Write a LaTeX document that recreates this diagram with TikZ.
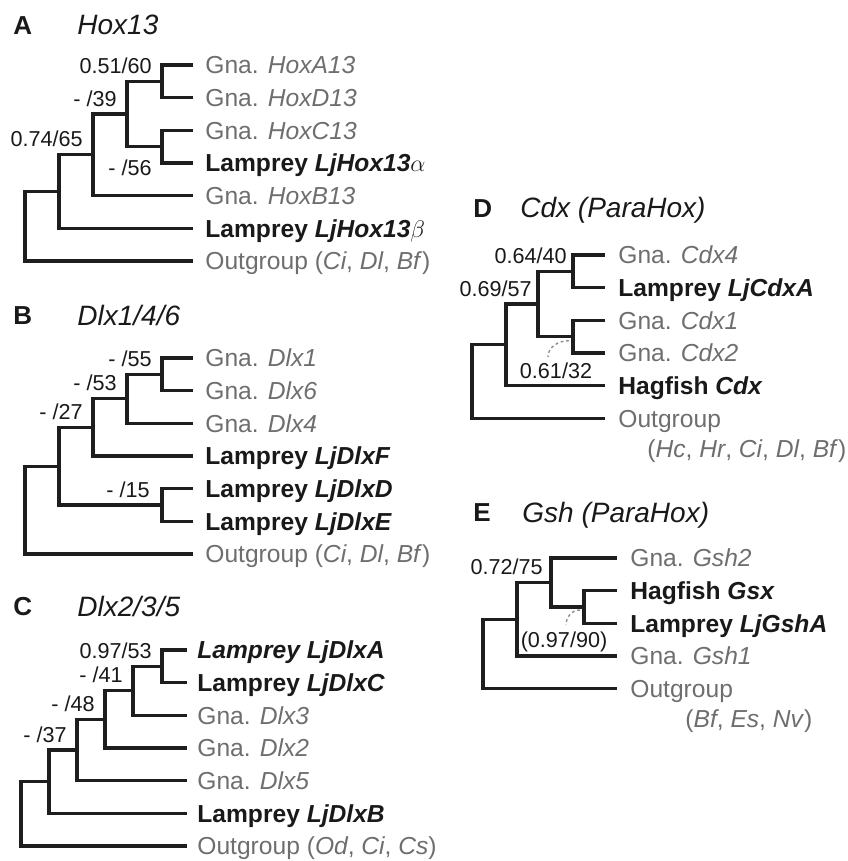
\documentclass[tikz,border=0pt]{standalone}
\usepackage{fontspec}
\setmainfont{Liberation Sans}
\usetikzlibrary{positioning}

\definecolor{treeline}{RGB}{30,30,30}
\definecolor{tipgray}{RGB}{110,110,110}
\definecolor{tipblack}{RGB}{25,25,25}
\definecolor{arcgray}{RGB}{140,140,140}

\tikzset{
  branch/.style={draw=treeline, line width=1.6pt},
  gna/.style={font=\fontsize{12.3}{14}\selectfont, text=tipgray, inner sep=0pt, text height=8.8pt, text depth=0pt},
  lam/.style={gna, text=tipblack, font=\fontsize{12.3}{14}\selectfont\bfseries},
  bs/.style={font=\fontsize{10.8}{12}\selectfont, text=tipblack, inner sep=0pt, text height=7.8pt, text depth=0pt},
  panel/.style={font=\fontsize{13}{15}\selectfont\bfseries, text=tipblack, inner sep=0pt, anchor=west, text height=9.3pt, text depth=0pt},
  gene/.style={font=\fontsize{14}{16}\selectfont\itshape, text=tipblack, inner sep=0pt, anchor=west, text height=10pt, text depth=0pt},
  dotarc/.style={draw=arcgray, line width=0.7pt, dash pattern=on 1.4pt off 1.4pt}
}

\begin{document}
\begin{tikzpicture}[x=0.5pt, y=-0.5pt]
\useasboundingbox (0,0) rectangle (847,861);

% A  Hox13
\node[panel] (pA) at (13,25) {A};
\node[gene] (gA) at (77,25) {Hox13};
\coordinate (a1) at (193,65);
\coordinate (a2) at (193,97.7);
\coordinate (a3) at (193,130.3);
\coordinate (a4) at (193,163);
\coordinate (a5) at (193,195.7);
\coordinate (a6) at (193,228.3);
\coordinate (a7) at (193,261);
\coordinate (a12) at (162,81.3);
\coordinate (a34) at (162,146.7);
\coordinate (a14) at (127,114);
\coordinate (a15) at (93,154.8);
\coordinate (a16) at (59,191.6);
\coordinate (a17) at (25,226.3);
\draw[branch] (a12) |- (a1) (a12) |- (a2) (a34) |- (a3) (a34) |- (a4);
\draw[branch] (a14) |- (a12) (a14) |- (a34) (a15) |- (a14) (a15) |- (a5);
\draw[branch] (a16) |- (a15) (a16) |- (a6) (a17) |- (a16) (a17) |- (a7);
\node[gna, right=6pt of a1] (ta1) {Gna. \textit{HoxA13}};
\node[gna, right=6pt of a2] (ta2) {Gna. \textit{HoxD13}};
\node[gna, right=6pt of a3] (ta3) {Gna. \textit{HoxC13}};
\node[lam, right=6pt of a4] (ta4) {Lamprey \textit{LjHox13}$\alpha$};
\node[gna, right=6pt of a5] (ta5) {Gna. \textit{HoxB13}};
\node[lam, right=6pt of a6] (ta6) {Lamprey \textit{LjHox13}$\beta$};
\node[gna, right=6pt of a7] (ta7) {Outgroup (\textit{Ci}, \textit{Dl}, \textit{Bf})};
\node[bs, above left=3.75pt and 5pt of a12] (la1) {0.51/60};
\node[bs, above left=3.75pt and 5pt of a14] (la2) {- /39};
\node[bs, above left=3.75pt and 5pt of a15] (la3) {0.74/65};
\node[bs, below left=6.5pt and 5pt of a34] (la4) {- /56};

% B  Dlx1/4/6
\node[panel] (pB) at (13,315) {B};
\node[gene] (gB) at (77,315) {Dlx1/4/6};
\coordinate (b1) at (193,358);
\coordinate (b2) at (193,390.7);
\coordinate (b3) at (193,423.3);
\coordinate (b4) at (193,456);
\coordinate (b5) at (193,488.7);
\coordinate (b6) at (193,521.3);
\coordinate (b7) at (193,554);
\coordinate (b12) at (162,374.3);
\coordinate (b13) at (127,398.8);
\coordinate (b14) at (93,427.4);
\coordinate (b56) at (162,505);
\coordinate (b16) at (59,466.2);
\coordinate (b17) at (25,510.1);
\draw[branch] (b12) |- (b1) (b12) |- (b2) (b13) |- (b12) (b13) |- (b3);
\draw[branch] (b14) |- (b13) (b14) |- (b4) (b56) |- (b5) (b56) |- (b6);
\draw[branch] (b16) |- (b14) (b16) |- (b56) (b17) |- (b16) (b17) |- (b7);
\node[gna, right=6pt of b1] (tb1) {Gna. \textit{Dlx1}};
\node[gna, right=6pt of b2] (tb2) {Gna. \textit{Dlx6}};
\node[gna, right=6pt of b3] (tb3) {Gna. \textit{Dlx4}};
\node[lam, right=6pt of b4] (tb4) {Lamprey \textit{LjDlxF}};
\node[lam, right=6pt of b5] (tb5) {Lamprey \textit{LjDlxD}};
\node[lam, right=6pt of b6] (tb6) {Lamprey \textit{LjDlxE}};
\node[gna, right=6pt of b7] (tb7) {Outgroup (\textit{Ci}, \textit{Dl}, \textit{Bf})};
\node[bs, above left=3.75pt and 5pt of b12] (lb1) {- /55};
\node[bs, above left=3.75pt and 5pt of b13] (lb2) {- /53};
\node[bs, above left=3.75pt and 5pt of b14] (lb3) {- /27};
\node[bs, above left=3.75pt and 6pt of b56] (lb4) {- /15};

% C  Dlx2/3/5
\node[panel] (pC) at (13,606) {C};
\node[gene] (gC) at (77,606) {Dlx2/3/5};
\coordinate (c1) at (187,650);
\coordinate (c2) at (187,682.7);
\coordinate (c3) at (187,715.3);
\coordinate (c4) at (187,748);
\coordinate (c5) at (187,780.7);
\coordinate (c6) at (187,813.3);
\coordinate (c7) at (187,846);
\coordinate (c12) at (162,666.3);
\coordinate (c13) at (133,690.8);
\coordinate (c14) at (105,719.4);
\coordinate (c15) at (77,750);
\coordinate (c16) at (49,781.7);
\coordinate (c17) at (21,813.8);
\draw[branch] (c12) |- (c1) (c12) |- (c2) (c13) |- (c12) (c13) |- (c3);
\draw[branch] (c14) |- (c13) (c14) |- (c4) (c15) |- (c14) (c15) |- (c5);
\draw[branch] (c16) |- (c15) (c16) |- (c6) (c17) |- (c16) (c17) |- (c7);
\node[lam, right=5pt of c1] (tc1) {\textit{Lamprey LjDlxA}};
\node[lam, right=5pt of c2] (tc2) {Lamprey \textit{LjDlxC}};
\node[gna, right=5pt of c3] (tc3) {Gna. \textit{Dlx3}};
\node[gna, right=5pt of c4] (tc4) {Gna. \textit{Dlx2}};
\node[gna, right=5pt of c5] (tc5) {Gna. \textit{Dlx5}};
\node[lam, right=5pt of c6] (tc6) {Lamprey \textit{LjDlxB}};
\node[gna, right=5pt of c7] (tc7) {Outgroup (\textit{Od}, \textit{Ci}, \textit{Cs})};
\node[bs, above left=3.75pt and 5pt of c12] (lc1) {0.97/53};
\node[bs, above left=3.75pt and 5pt of c13] (lc2) {- /41};
\node[bs, above left=3.75pt and 5pt of c14] (lc3) {- /48};
\node[bs, above left=3.75pt and 5pt of c15] (lc4) {- /37};

% D  Cdx
\node[panel] (pD) at (473,208) {D};
\node[gene] (gD) at (520,208) {Cdx (ParaHox)};
\coordinate (d1) at (605,255);
\coordinate (d2) at (605,287.7);
\coordinate (d3) at (605,320.3);
\coordinate (d4) at (605,353);
\coordinate (d5) at (605,385.7);
\coordinate (d6) at (605,418.3);
\coordinate (d12) at (573,271.3);
\coordinate (d34) at (573,336.7);
\coordinate (d14) at (538,304);
\coordinate (d15) at (506,344.8);
\coordinate (d16) at (472,381.6);
\draw[branch] (d12) |- (d1) (d12) |- (d2) (d34) |- (d3) (d34) |- (d4);
\draw[branch] (d14) |- (d12) (d14) |- (d34) (d15) |- (d14) (d15) |- (d5);
\draw[branch] (d16) |- (d15) (d16) |- (d6);
\node[gna, right=6.5pt of d1] (td1) {Gna. \textit{Cdx4}};
\node[lam, right=6.5pt of d2] (td2) {Lamprey \textit{LjCdxA}};
\node[gna, right=6.5pt of d3] (td3) {Gna. \textit{Cdx1}};
\node[gna, right=6.5pt of d4] (td4) {Gna. \textit{Cdx2}};
\node[lam, right=6.5pt of d5] (td5) {Hagfish \textit{Cdx}};
\node[gna, right=6.5pt of d6] (td6) {Outgroup};
\node[gna, anchor=west] (td7) at (647,449) {(\textit{Hc}, \textit{Hr}, \textit{Ci}, \textit{Dl}, \textit{Bf})};
\node[bs, above left=3.75pt and 3pt of d12] (ld1) {0.64/40};
\node[bs, above left=3.75pt and 3pt of d14] (ld2) {0.69/57};
\node[bs, anchor=north] (ld3) at (556,362) {0.61/32};
\draw[dotarc] ([xshift=-2pt,yshift=-2pt]d34) to[out=180,in=90] ([xshift=-4pt,yshift=2.5pt]ld3.north);

% E  Gsh
\node[panel] (pE) at (473,512) {E};
\node[gene] (gE) at (522,512) {Gsh (ParaHox)};
\coordinate (e1) at (617,558);
\coordinate (e2) at (617,590.7);
\coordinate (e3) at (617,623.3);
\coordinate (e4) at (617,656);
\coordinate (e5) at (617,688.7);
\coordinate (e23) at (584,607);
\coordinate (e13) at (551,582.5);
\coordinate (e14) at (517,619.3);
\coordinate (e15) at (483,654);
\draw[branch] (e23) |- (e2) (e23) |- (e3) (e13) |- (e1) (e13) |- (e23);
\draw[branch] (e14) |- (e13) (e14) |- (e4) (e15) |- (e14) (e15) |- (e5);
\node[gna, right=6.5pt of e1] (te1) {Gna. \textit{Gsh2}};
\node[lam, right=6.5pt of e2] (te2) {Hagfish \textit{Gsx}};
\node[lam, right=6.5pt of e3] (te3) {Lamprey \textit{LjGshA}};
\node[gna, right=6.5pt of e4] (te4) {Gna. \textit{Gsh1}};
\node[gna, right=6.5pt of e5] (te5) {Outgroup};
\node[gna, anchor=west] (te6) at (685,719) {(\textit{Bf}, \textit{Es}, \textit{Nv})};
\node[bs, above left=3.75pt and 4pt of e13] (le1) {0.72/75};
\node[bs, anchor=north] (le2) at (564,631) {(0.97/90)};
\draw[dotarc] ([xshift=-2pt,yshift=-1.5pt]e23) to[out=180,in=90] ([xshift=1pt,yshift=3pt]le2.north);
\end{tikzpicture}
\end{document}
